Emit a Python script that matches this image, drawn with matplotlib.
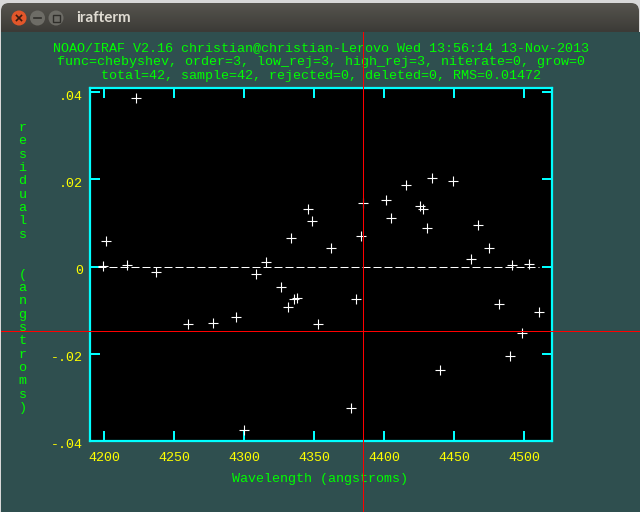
import numpy as np
import matplotlib
matplotlib.use('Agg')
import matplotlib.pyplot as plt
from matplotlib.colors import LinearSegmentedColormap
from matplotlib.patches import Circle, FancyBboxPatch, Rectangle
from matplotlib.transforms import ScaledTranslation

wave = [4223.1, 4345.7, 4348.6, 4333.8, 4315.7, 4201.4, 4199.1, 4216.4, 4385.0, 4401.2, 4404.8,
        4383.8, 4362.4, 4415.7, 4434.3, 4449.3, 4425.9, 4427.9, 4430.5, 4467.1, 4475.0, 4462.1,
        4491.4, 4503.4, 4237.4, 4308.6, 4326.2, 4335.9, 4337.6, 4331.6, 4352.6, 4294.5, 4277.9,
        4259.8, 4300.2, 4380.0, 4482.1, 4510.9, 4498.8, 4490.2, 4439.8, 4376.4]
resid = [.0386, .0131, .0104, .0065, .0010, .0058, .0001, .0003, .0146, .0152, .0112,
         .0069, .0043, .0187, .0204, .0197, .0139, .0132, .0089, .0096, .0043, .0018,
         .0003, .0006, -.0012, -.0018, -.0048, -.0074, -.0073, -.0094, -.0131, -.0116, -.0130,
         -.0132, -.0375, -.0074, -.0085, -.0104, -.0153, -.0205, -.0237, -.0326]
fit_wave = [4196, 4511]
fit_resid = [0, 0]

xticks = [4200, 4250, 4300, 4350, 4400, 4450, 4500]
yticks = [.04, .02, 0, -.02, -.04]
ylabels = ['.04', '.02', '0', '-.02', '-.04']

title_lines = ['NOAO/IRAF V2.16 christian@christian-Lerovo Wed 13:56:14 13-Nov-2013',
               'func=chebyshev, order=3, low_rej=3, high_rej=3, niterate=0, grow=0',
               'total=42, sample=42, rejected=0, deleted=0, RMS=0.01472']
title_y = [48, 62.5, 76.5]

W, H = 640, 512
TEAL = '#2f4f4f'
GREEN = '#00ff00'
YELLOW = '#ffff00'
CYAN = '#00ffff'
CURSOR = '#ff0000'
MONO = 'Liberation Mono'
FS = 9.6

fig = plt.figure(figsize=(6.4, 5.12), dpi=100, facecolor='#d9d9d9')

# window frame, drawn in pixel coordinates
bg = fig.add_axes([0, 0, 1, 1])
bar = FancyBboxPatch((1, 3), W - 2, 60, boxstyle='round,pad=0,rounding_size=8', fc='none', ec='none')
bg.add_patch(bar)
grad = np.linspace(0, 1, 29).reshape(-1, 1)
im = bg.imshow(grad, extent=(1, W, 32, 3), cmap=LinearSegmentedColormap.from_list('bar', ['#56544e', '#3c3b37']),
               aspect='auto', zorder=1)
im.set_clip_path(bar)
bg.set_xlim(0, W)
bg.set_ylim(H, 0)
bg.axis('off')
bg.add_patch(Rectangle((1, 32), W - 1, H - 32, fc=TEAL, ec='none', zorder=1))
bg.add_patch(Circle((19, 18), 7.5, fc='#e2562a', ec='none', zorder=2))
bg.add_patch(Circle((37.5, 18), 7.5, fc='#6d6c66', ec='none', zorder=2))
bg.add_patch(Circle((56, 18), 7.5, fc='#6d6c66', ec='none', zorder=2))
bg.plot([16.5, 21.5], [15.5, 20.5], color='#3a1a10', lw=1.2, zorder=3)
bg.plot([16.5, 21.5], [20.5, 15.5], color='#3a1a10', lw=1.2, zorder=3)
bg.plot([34, 41], [18, 18], color='#2f2e2a', lw=1.2, zorder=3)
bg.add_patch(Rectangle((52.5, 14.5), 7, 7, fc='none', ec='#2f2e2a', lw=1, zorder=3))
bg.text(76, 18, 'irafterm', color='#dfdbd2', family='Lato', weight='bold', fontsize=11,
        va='center', ha='left', zorder=3)

for line, y in zip(title_lines, title_y):
    bg.text(321, y, line, color=GREEN, family=MONO, fontsize=FS, ha='center', va='center', zorder=3)

for i, ch in enumerate('residuals  (angstroms)'):
    bg.text(22.5, 128 + i * 13.33, ch, color=GREEN, family=MONO, fontsize=FS, ha='center', va='center', zorder=3)
bg.text(320.5, 479, 'Wavelength (angstroms)', color=GREEN, family=MONO, fontsize=FS, ha='center', va='center', zorder=3)

# plot area
left, right, top, bottom = 89.5, 552, 88, 440.7
ax = fig.add_axes([left / W, 1 - bottom / H, (right - left) / W, (bottom - top) / H], facecolor='black')
ax.set_xlim(4189.6, 4520)
ax.set_ylim(-.0397, .0410)
ax.plot(wave, resid, linestyle='none', marker='+', ms=6.8, mew=.8, color='white')
ax.plot(fit_wave, fit_resid, color='white', lw=.72, dashes=(8, 3))
ax.set_xticks(xticks)
ax.set_xticklabels([str(t) for t in xticks], family=MONO, fontsize=FS, color=YELLOW)
ax.set_yticks(yticks)
ax.set_yticklabels(ylabels, family=MONO, fontsize=FS, color=YELLOW)
ax.tick_params(axis='both', which='both', direction='in', length=7.2, width=1.44, color=CYAN,
               top=True, right=True)
ax.tick_params(axis='x', pad=8)
ax.tick_params(axis='y', pad=4.5)
# y labels sit about 3 px below their ticks in the original
shift = ScaledTranslation(0, -3 / 100, fig.dpi_scale_trans)
for lab in ax.get_yticklabels():
    lab.set_transform(lab.get_transform() + shift)
for spine in ax.spines.values():
    spine.set_color(CYAN)
    spine.set_linewidth(1.6)

# graphics cursor crosshair over everything
over = fig.add_axes([0, 0, 1, 1], zorder=10)
over.patch.set_alpha(0)
over.set_xlim(0, W)
over.set_ylim(H, 0)
over.axis('off')
over.plot([1, W], [331.3, 331.3], color=CURSOR, lw=.72)
over.plot([363.3, 363.3], [32, H], color=CURSOR, lw=.72)

plt.savefig('out.png', dpi=100, facecolor=fig.get_facecolor())
